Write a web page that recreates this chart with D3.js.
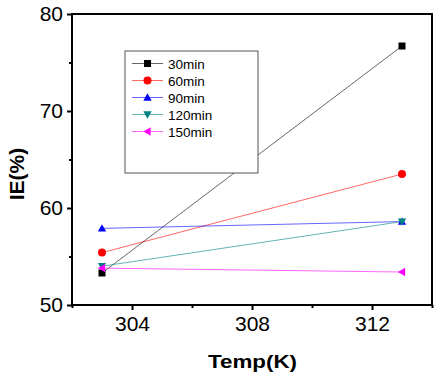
<!DOCTYPE html>
<html>
<head>
<meta charset="utf-8">
<script src="https://cdn.jsdelivr.net/npm/d3@7"></script>
<style>
  body { margin: 0; background: #fff; }
  svg text { font-family: Arial, "Liberation Sans", sans-serif; }
</style>
</head>
<body>
<div id="chart"></div>
<script>
// Data
const temps = [303, 313];
const seriesNames = ["30min", "60min", "90min", "120min", "150min"];
const ie30 = [53.3, 76.7];
const ie60 = [55.4, 63.5];
const ie90 = [57.9, 58.6];
const ie120 = [54.0, 58.6];
const ie150 = [53.8, 53.4];
const xTicks = [304, 308, 312];
const yTicks = [50, 60, 70, 80];

const colors = ["#000000", "#ff0000", "#0000ff", "#008080", "#ff00ff"];
const symbols = ["square", "circle", "up", "down", "left"];
const allValues = [ie30, ie60, ie90, ie120, ie150];

const series = seriesNames.map((name, i) => ({
    name: name,
    color: colors[i],
    symbol: symbols[i],
    points: temps.map((t, j) => ({t: t, v: allValues[i][j]}))
}));

const W = 439, H = 379;
const margin = {top: 14, right: 7, bottom: 74, left: 72},
    width = W - margin.left - margin.right,
    height = H - margin.top - margin.bottom;

const svg = d3.select("#chart")
    .append("svg")
    .attr("width", W)
    .attr("height", H);

const g = svg.append("g")
    .attr("transform", `translate(${margin.left}, ${margin.top})`);

const x = d3.scaleLinear().domain([302, 314]).range([0, width]);
const y = d3.scaleLinear().domain([50, 80]).range([height, 0]);

// minor ticks
g.append("g")
    .attr("transform", `translate(0, ${height})`)
    .call(d3.axisBottom(x).tickValues([302, 306, 310, 314]).tickSize(3).tickFormat(""))
    .call(a => a.select(".domain").remove())
    .selectAll("line").attr("stroke-width", 2);
g.append("g")
    .call(d3.axisLeft(y).tickValues([55, 65, 75]).tickSize(3).tickFormat(""))
    .call(a => a.select(".domain").remove())
    .selectAll("line").attr("stroke-width", 2);

// major axes
const xAxis = g.append("g")
    .attr("transform", `translate(0, ${height})`)
    .call(d3.axisBottom(x).tickValues(xTicks).tickSize(5).tickPadding(6).tickFormat(d3.format("d")));
xAxis.select(".domain").remove();
xAxis.selectAll("line").attr("stroke-width", 2);
xAxis.selectAll("text").attr("font-size", 21).attr("fill", "#000")
    .attr("font-family", "Arial, 'Liberation Sans', sans-serif");

const yAxis = g.append("g")
    .call(d3.axisLeft(y).tickValues(yTicks).tickSize(5).tickPadding(4).tickFormat(d3.format("d")));
yAxis.select(".domain").remove();
yAxis.selectAll("line").attr("stroke-width", 2);
yAxis.selectAll("text").attr("font-size", 21).attr("fill", "#000")
    .attr("font-family", "Arial, 'Liberation Sans', sans-serif");

// frame
g.append("rect")
    .attr("x", 0).attr("y", 0)
    .attr("width", width).attr("height", height)
    .attr("fill", "none")
    .attr("stroke", "#000")
    .attr("stroke-width", 2);

// marker drawing
function drawMarker(sel, symbol, color, size) {
    const s = size;
    if (symbol === "square") {
        sel.append("rect").attr("x", -s / 2).attr("y", -s / 2)
            .attr("width", s).attr("height", s).attr("fill", color);
    } else if (symbol === "circle") {
        sel.append("circle").attr("r", s / 2 + 0.5).attr("fill", color);
    } else {
        const h = s * 0.9;
        let pts;
        if (symbol === "up") pts = [[0, -h / 2 - 1], [h / 2 + 1, h / 2], [-h / 2 - 1, h / 2]];
        if (symbol === "down") pts = [[0, h / 2 + 1], [h / 2 + 1, -h / 2], [-h / 2 - 1, -h / 2]];
        if (symbol === "left") pts = [[-h / 2 - 1, 0], [h / 2, -h / 2 - 1], [h / 2, h / 2 + 1]];
        sel.append("polygon").attr("points", pts.map(p => p.join(",")).join(" ")).attr("fill", color);
    }
}

const line = d3.line().x(d => x(d.t)).y(d => y(d.v));

series.forEach(s => {
    g.append("path")
        .datum(s.points)
        .attr("fill", "none")
        .attr("stroke", s.color)
        .attr("stroke-opacity", 0.6)
        .attr("stroke-width", 1)
        .attr("d", line);
});
series.forEach(s => {
    s.points.forEach(p => {
        const m = g.append("g").attr("transform", `translate(${x(p.t)}, ${y(p.v)})`);
        drawMarker(m, s.symbol, s.color, 7);
    });
});

// legend
const legend = svg.append("g").attr("transform", "translate(125, 51)");
legend.append("rect")
    .attr("x", 0).attr("y", 0)
    .attr("width", 133).attr("height", 122)
    .attr("fill", "#fff")
    .attr("stroke", "#555")
    .attr("stroke-width", 1);
series.forEach((s, i) => {
    const row = legend.append("g").attr("transform", `translate(0, ${12.5 + i * 17})`);
    row.append("line").attr("x1", 7).attr("x2", 38).attr("y1", 0).attr("y2", 0)
        .attr("stroke", s.color).attr("stroke-opacity", 0.6).attr("stroke-width", 1);
    drawMarker(row.append("g").attr("transform", "translate(22.5, 0)"), s.symbol, s.color, 7);
    row.append("text").attr("x", 43).attr("y", 5)
        .attr("font-size", 13.5).attr("fill", "#000").text(s.name);
});

// axis titles
svg.append("text")
    .attr("x", 252.5)
    .attr("y", 367.5)
    .attr("text-anchor", "middle")
    .attr("font-size", 18)
    .attr("font-weight", "bold")
    .attr("textLength", 89)
    .attr("lengthAdjust", "spacingAndGlyphs")
    .text("Temp(K)");

svg.append("text")
    .attr("transform", `translate(24, 174) rotate(-90)`)
    .attr("text-anchor", "middle")
    .attr("font-size", 21)
    .attr("font-weight", "bold")
    .text("IE(%)");
</script>
</body>
</html>
